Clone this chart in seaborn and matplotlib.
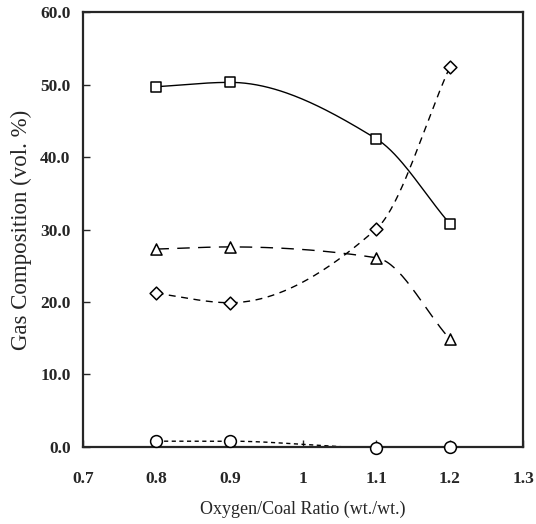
import numpy as np
import matplotlib
matplotlib.use("Agg")
import matplotlib.pyplot as plt
import seaborn as sns
import pandas as pd

ratio = [0.8, 0.9, 1.1, 1.2]
co = [49.7, 50.3, 42.5, 30.8]      # squares
h2 = [27.3, 27.6, 26.1, 14.9]      # triangles
co2 = [21.2, 19.9, 30.1, 52.4]     # diamonds
ch4 = [0.8, 0.8, -0.1, 0.0]        # circles

x_ticks = [0.7, 0.8, 0.9, 1.0, 1.1, 1.2, 1.3]
x_labels = ["0.7", "0.8", "0.9", "1", "1.1", "1.2", "1.3"]
y_ticks = [0, 10, 20, 30, 40, 50, 60]


def smooth(x, y, n=150):
    # monotone cubic (Fritsch-Carlson) curve through the points, line shape only
    x = np.asarray(x, float)
    y = np.asarray(y, float)
    h = np.diff(x)
    d = np.diff(y) / h
    m = np.zeros(len(x))
    m[0], m[-1] = d[0], d[-1]
    for i in range(1, len(x) - 1):
        if d[i - 1] * d[i] > 0:
            w1 = 2 * h[i] + h[i - 1]
            w2 = h[i] + 2 * h[i - 1]
            m[i] = (w1 + w2) / (w1 / d[i - 1] + w2 / d[i])
    xs = np.linspace(x[0], x[-1], n)
    idx = np.clip(np.searchsorted(x, xs) - 1, 0, len(x) - 2)
    t = (xs - x[idx]) / h[idx]
    h00 = 2 * t**3 - 3 * t**2 + 1
    h10 = t**3 - 2 * t**2 + t
    h01 = -2 * t**3 + 3 * t**2
    h11 = t**3 - t**2
    ys = h00 * y[idx] + h10 * h[idx] * m[idx] + h01 * y[idx + 1] + h11 * h[idx] * m[idx + 1]
    return xs, ys


sns.set_style("ticks")
plt.rcParams["font.family"] = ["Liberation Serif", "DejaVu Serif"]

fig = plt.figure(figsize=(5.36, 5.24), dpi=100)
ax = fig.add_axes([0.155, 0.147, 0.821, 0.83])

series = [
    ("CO", co, "s", None, "-"),
    ("H2", h2, "^", (9, 6), "--"),
    ("CO2", co2, "D", (5, 4), "--"),
    ("CH4", ch4, "o", (3, 2.5), "--"),
]
sizes = {"s": 7.5, "^": 8, "D": 6.5, "o": 8.5}

for name, vals, mk, dash, ls in series:
    xs, ys = smooth(ratio, vals)
    line, = ax.plot(xs, ys, color="black", lw=1.0, ls=ls, zorder=2)
    if dash is not None:
        line.set_dashes(dash)

df = pd.DataFrame({
    "ratio": ratio * 4,
    "value": co + h2 + co2 + ch4,
    "gas": ["CO"] * 4 + ["H2"] * 4 + ["CO2"] * 4 + ["CH4"] * 4,
})
for name, vals, mk, dash, ls in series:
    sns.scatterplot(data=df[df["gas"] == name], x="ratio", y="value", ax=ax,
                    marker=mk, s=sizes[mk] ** 2, facecolor="white",
                    edgecolor="black", linewidth=1.1, zorder=3, legend=False,
                    clip_on=False)

ax.set_xlim(0.7, 1.3)
ax.set_ylim(0, 60)
ax.set_xticks(x_ticks)
ax.set_xticklabels(x_labels)
ax.set_yticks(y_ticks)
ax.set_yticklabels([f"{v:.1f}" for v in y_ticks])
ax.tick_params(direction="in", length=5, width=1, labelsize=12.5)
ax.tick_params(axis="x", pad=17)
ax.tick_params(axis="y", pad=9)
for lab in ax.get_xticklabels() + ax.get_yticklabels():
    lab.set_fontweight("bold")
for sp in ax.spines.values():
    sp.set_linewidth(1.6)
    sp.set_visible(True)

ax.set_xlabel("Oxygen/Coal Ratio (wt./wt.)", fontsize=13, labelpad=10)
ax.set_ylabel("Gas Composition (vol. %)", fontsize=16.5, labelpad=6)

fig.savefig("out.png", dpi=100, facecolor="white")
